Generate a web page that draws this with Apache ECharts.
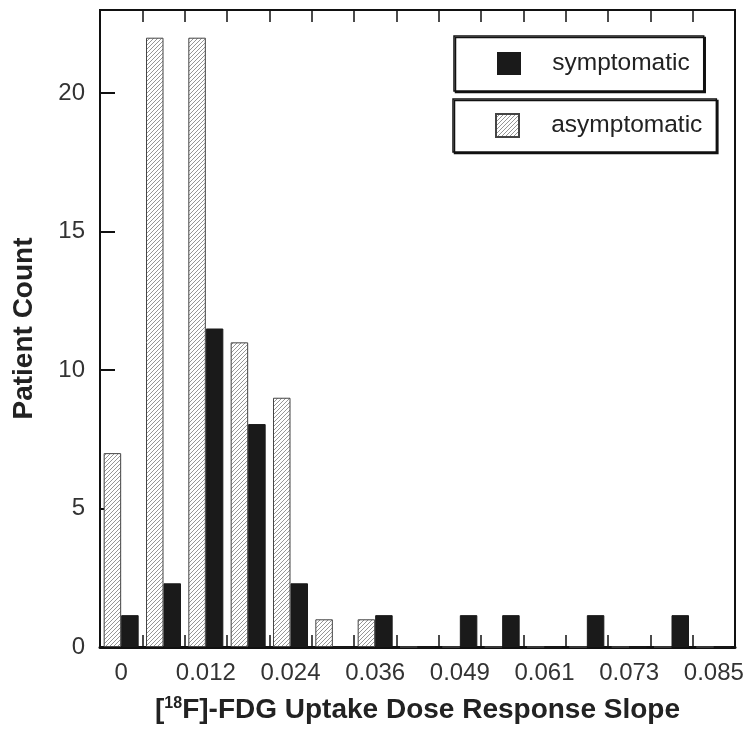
<!DOCTYPE html>
<html>
<head>
<meta charset="utf-8">
<script src="https://cdn.jsdelivr.net/npm/echarts@6/dist/echarts.min.js"></script>
<style>
html,body{margin:0;padding:0;background:#fff;}
#chart{width:750px;height:737px;}
</style>
</head>
<body>
<div id="chart"></div>
<script>
const categories = ['0','0.006','0.012','0.018','0.024','0.030','0.036','0.042','0.049','0.055','0.061','0.067','0.073','0.079','0.085'];
const asymptomatic = [7, 22, 22, 11, 9, 1, 1, 0, 0, 0, 0, 0, 0, 0, 0];
const symptomatic = [1.15, 2.3, 11.5, 8.05, 2.3, 0, 1.15, 0, 1.15, 1.15, 0, 1.15, 0, 1.15, 0];
const yTicks = [0, 5, 10, 15, 20];

function hatch() {
  const s = 4;
  const c = document.createElement('canvas');
  c.width = s; c.height = s;
  const g = c.getContext('2d');
  g.fillStyle = '#fff';
  g.fillRect(0, 0, s, s);
  g.strokeStyle = '#8a8a8a';
  g.lineWidth = 0.9;
  g.beginPath();
  g.moveTo(-1, s + 1); g.lineTo(s + 1, -1);
  g.moveTo(-1, 1); g.lineTo(1, -1);
  g.moveTo(s - 1, s + 1); g.lineTo(s + 1, s - 1);
  g.stroke();
  return c;
}
const hatchPattern = { image: hatch(), repeat: 'repeat' };
const FONT = "'Liberation Sans', Arial, Helvetica, sans-serif";

const chart = echarts.init(document.getElementById('chart'), null, { renderer: 'canvas' });
const legendBase = {
  orient: 'horizontal',
  icon: 'rect',
  itemWidth: 22,
  itemHeight: 21,
  backgroundColor: '#fff',
  borderColor: '#111',
  borderWidth: 1.5,
  borderRadius: 0,
  shadowColor: '#111',
  shadowBlur: 0,
  shadowOffsetX: 1.5,
  shadowOffsetY: 1.5,
  selectedMode: false,
  formatter: '    {name}',
  textStyle: { fontFamily: FONT, fontSize: 24.5, color: '#222' }
};
chart.setOption({
  animation: false,
  backgroundColor: '#fff',
  grid: { left: 100, right: 15, top: 10, bottom: 90, show: true, borderColor: '#111', borderWidth: 2, backgroundColor: 'transparent' },
  legend: [
    Object.assign({}, legendBase, { data: ['symptomatic'], left: 454, top: 36, padding: [15, 14, 15, 43] }),
    Object.assign({}, legendBase, { data: ['asymptomatic'], left: 453, top: 99, padding: [14, 14, 14, 42], itemWidth: 23, itemHeight: 23 })
  ],
  xAxis: [
    {
      type: 'category',
      data: categories,
      position: 'bottom',
      axisLine: { show: true, lineStyle: { color: '#111', width: 3 } },
      axisTick: { show: true, inside: true, length: 12, interval: 0, lineStyle: { color: '#111', width: 1.5 } },
      axisLabel: { interval: 1, margin: 14, fontFamily: FONT, fontSize: 24, color: '#333' },
      name: '[{sup|18}F]-FDG Uptake Dose Response Slope',
      nameLocation: 'middle',
      nameGap: 49,
      nameTextStyle: {
        fontFamily: FONT, fontSize: 28, fontWeight: 'bold', color: '#222',
        rich: { sup: { fontFamily: FONT, fontSize: 16, fontWeight: 'bold', color: '#222', verticalAlign: 'top', padding: [0, 0, 12, 0] } }
      }
    },
    {
      type: 'category',
      data: categories,
      position: 'top',
      axisLine: { show: false },
      axisTick: { show: true, inside: true, length: 12, interval: 0, lineStyle: { color: '#111', width: 1.5 } },
      axisLabel: { show: false }
    }
  ],
  yAxis: {
    type: 'value',
    min: 0,
    max: 23,
    interval: 5,
    splitLine: { show: false },
    axisLine: { show: true, lineStyle: { color: '#111', width: 2 } },
    axisTick: { show: true, inside: true, length: 15, lineStyle: { color: '#111', width: 2 } },
    axisLabel: {
      margin: 15, fontFamily: FONT, fontSize: 24, color: '#333', showMaxLabel: false,
      formatter: v => (yTicks.indexOf(v) >= 0 ? String(v) : '')
    },
    name: 'Patient Count',
    nameLocation: 'middle',
    nameGap: 62,
    nameTextStyle: { fontFamily: FONT, fontSize: 28, fontWeight: 'bold', color: '#222' }
  },
  series: [
    {
      name: 'asymptomatic',
      type: 'bar',
      data: asymptomatic,
      barWidth: 17.5,
      barGap: '0%',
      itemStyle: { color: hatchPattern, borderColor: '#444', borderWidth: 1 }
    },
    {
      name: 'symptomatic',
      type: 'bar',
      data: symptomatic,
      barWidth: 17.5,
      barGap: '0%',
      itemStyle: { color: '#1a1a1a', borderColor: '#1a1a1a', borderWidth: 1 }
    }
  ]
});
</script>
</body>
</html>
